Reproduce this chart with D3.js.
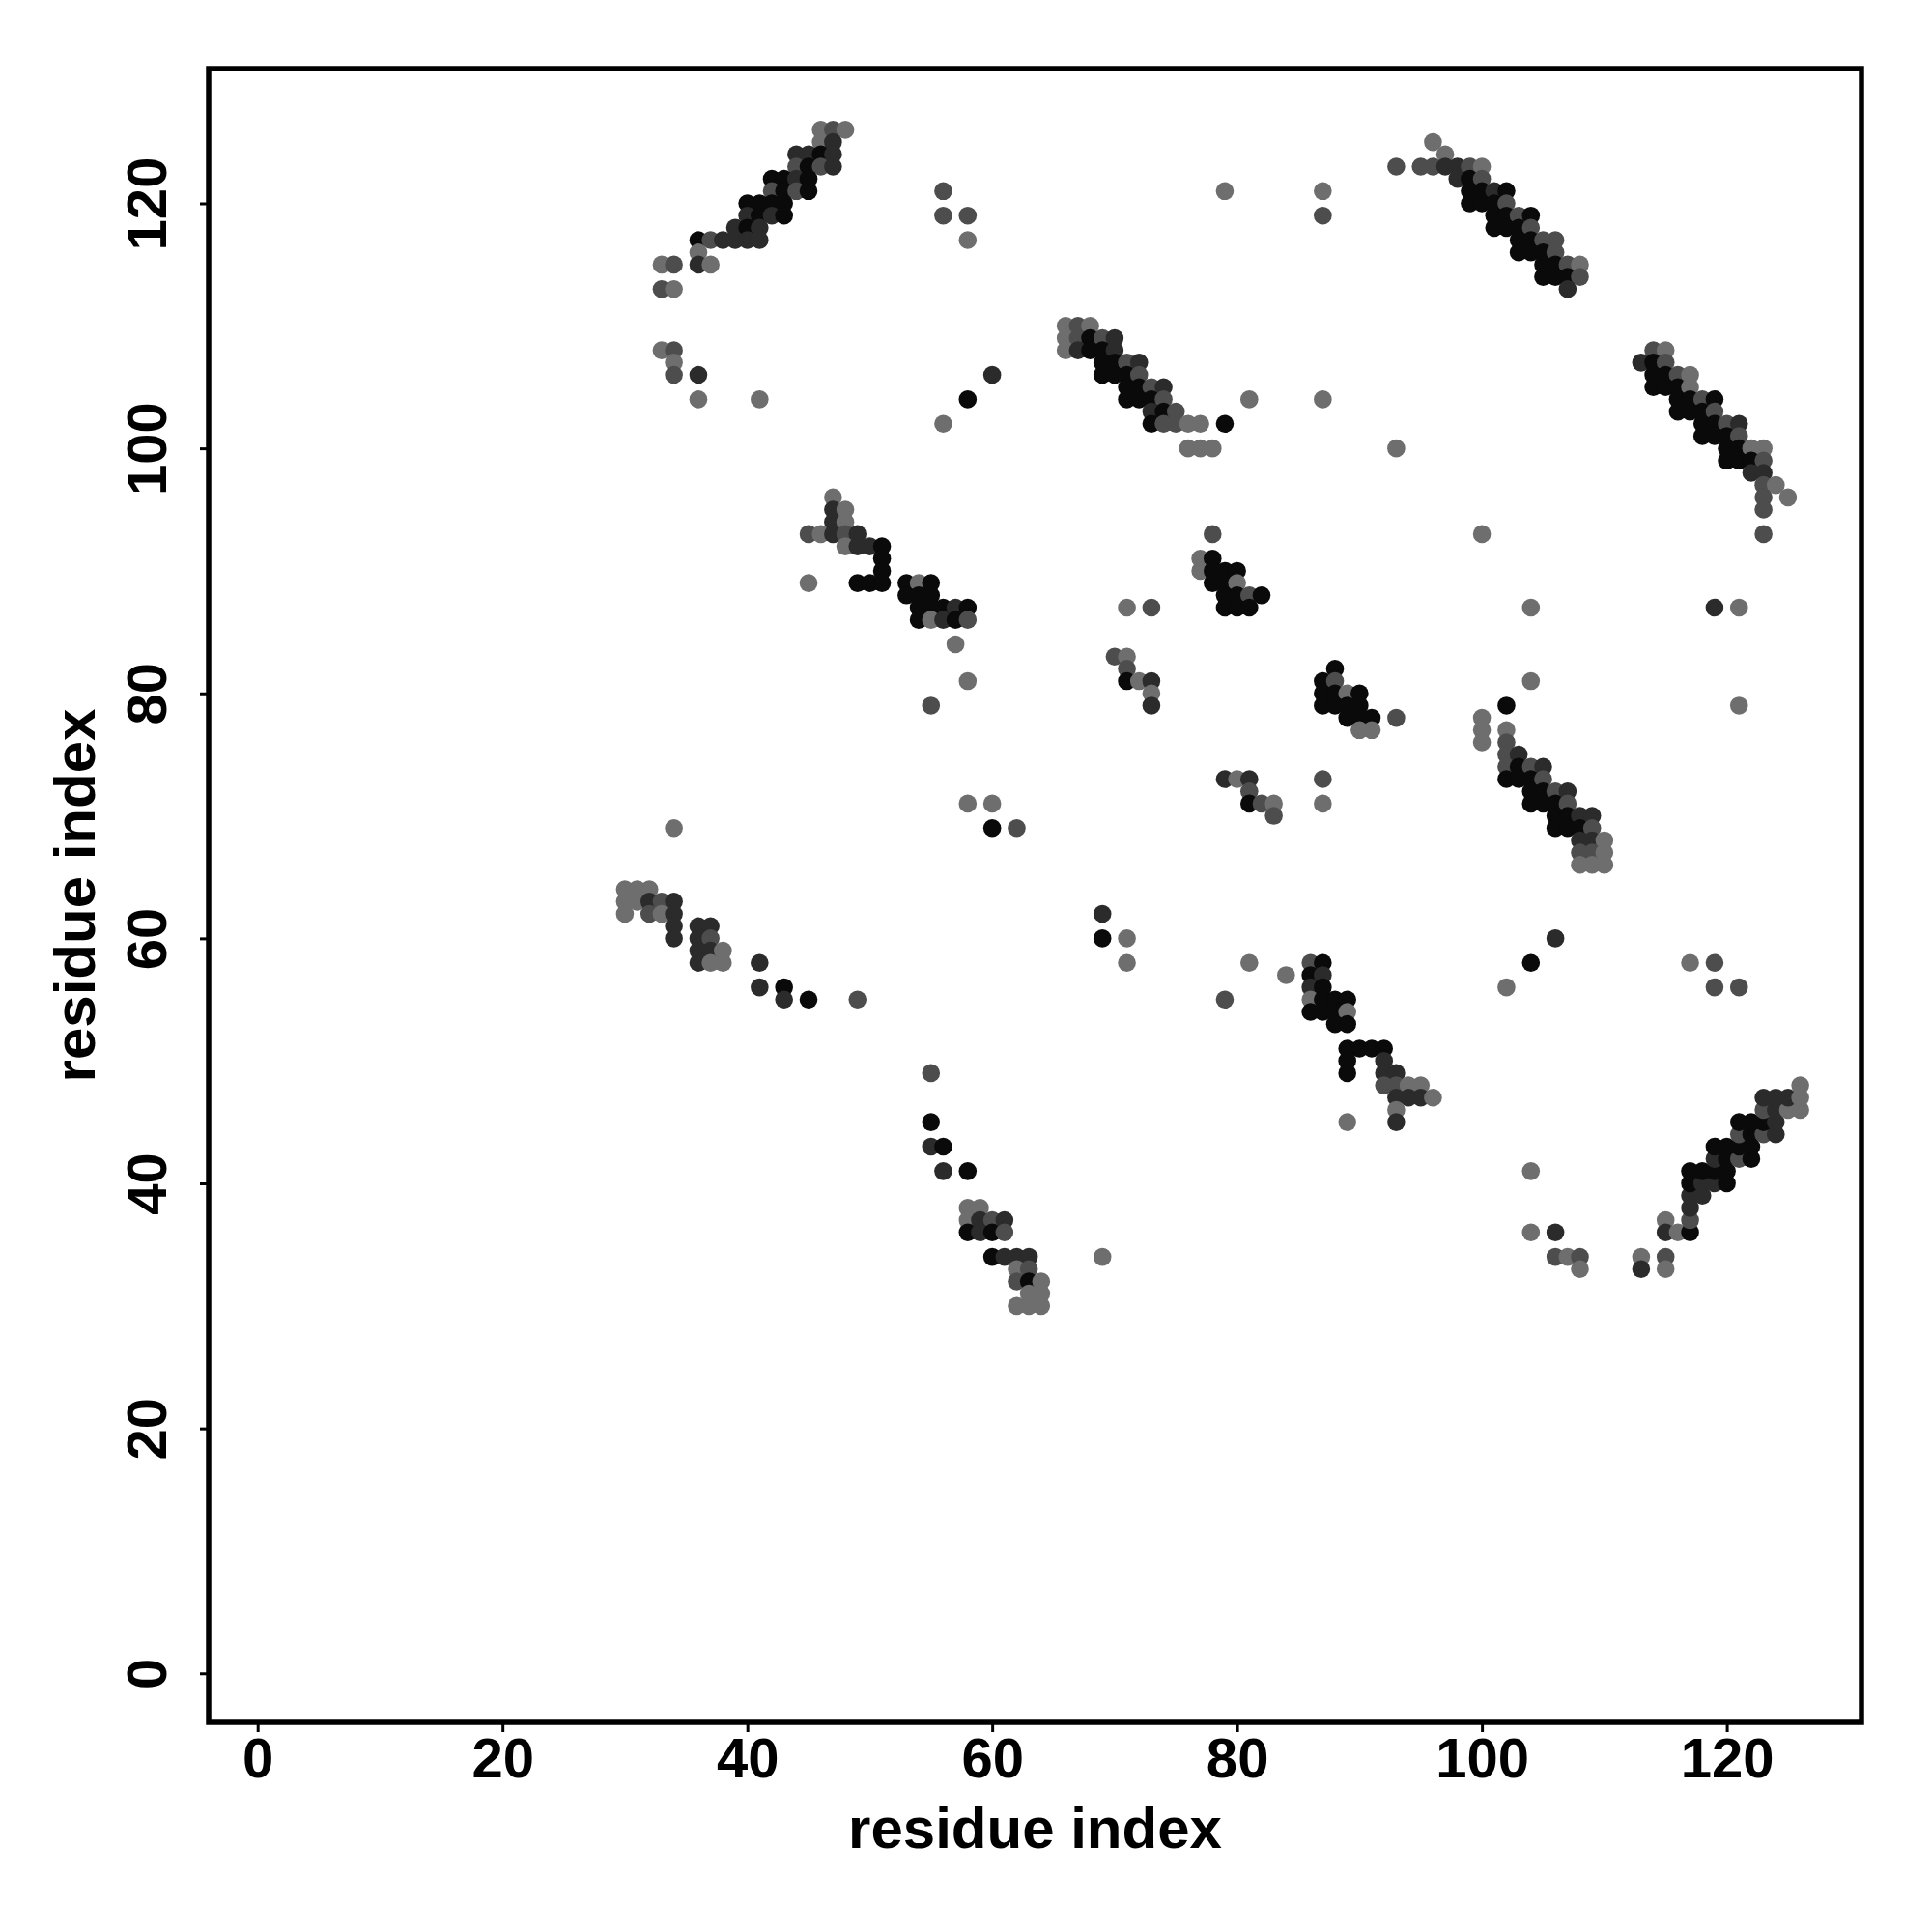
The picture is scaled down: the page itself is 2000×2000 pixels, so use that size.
<!DOCTYPE html>
<html>
<head>
<meta charset="utf-8">
<script src="https://cdn.jsdelivr.net/npm/d3@7"></script>
<style>
html,body{margin:0;padding:0;background:#fff;}
svg{display:block;}
</style>
</head>
<body>
<script>
// Each contact: [residue i (x), residue j (y), confidence level 1..4]
const contactsTopLeft = [
[46,126,1],[47,126,2],[48,126,1],[46,125,1],[47,125,3],
[44,124,3],[45,124,3],[46,124,4],[47,124,3],
[44,123,2],[45,123,4],[46,123,2],[47,123,3],
[42,122,4],[43,122,4],[44,122,3],[45,122,4],
[42,121,2],[43,121,4],[44,121,2],[45,121,4],
[40,120,4],[41,120,4],[42,120,4],[43,120,4],
[40,119,3],[41,119,4],[42,119,3],[43,119,4],
[39,118,3],[40,118,4],[41,118,3],
[36,117,4],[37,117,2],[38,117,3],[39,117,3],[40,117,3],[41,117,3],
[36,116,1],[33,115,1],[34,115,2],[36,115,3],[37,115,1],[33,113,2],[34,113,1],
[33,108,1],[34,108,2],[34,107,1],[34,106,2],[36,106,3],[36,104,1],[41,104,1],
[56,121,2],[56,119,2],[58,119,2],[58,117,1],[60,106,3],[58,104,4],[56,102,1]
];
const contactsTopMiddle = [
[66,110,1],[67,110,2],[68,110,1],
[66,109,1],[67,109,2],[68,109,4],[69,109,2],[70,109,3],
[66,108,1],[67,108,3],[68,108,4],[69,108,4],[70,108,3],
[69,107,4],[70,107,4],[71,107,2],[72,107,3],
[69,106,4],[70,106,4],[71,106,4],[72,106,2],
[71,105,4],[72,105,4],[73,105,2],[74,105,3],
[71,104,4],[72,104,4],[73,104,4],[74,104,2],
[73,103,3],[74,103,4],[75,103,2],
[73,102,4],[74,102,2],[75,102,2],[76,102,1],[77,102,1],[79,102,4],
[76,100,1],[77,100,1],[78,100,1],
[79,121,1],[87,121,1],[87,119,2],[93,123,2],[81,104,1],[87,104,1],[93,100,1]
];
const contactsTopRight = [
[96,125,1],[97,124,1],
[95,123,2],[96,123,2],[97,123,3],[98,123,3],[99,123,2],[100,123,1],
[98,122,3],[99,122,4],[100,122,2],
[99,121,4],[100,121,4],[101,121,3],[102,121,4],
[99,120,4],[100,120,4],[101,120,4],[102,120,2],
[101,119,4],[102,119,4],[103,119,2],[104,119,4],
[101,118,4],[102,118,4],[103,118,4],[104,118,2],
[103,117,4],[104,117,4],[105,117,2],[106,117,2],
[103,116,4],[104,116,4],[105,116,4],[106,116,2],
[105,115,4],[106,115,4],[107,115,2],[108,115,1],
[105,114,4],[106,114,4],[107,114,4],[108,114,2],
[107,113,3]
];
const contactsRightUpper = [
[114,108,2],[115,108,1],
[113,107,3],[114,107,4],[115,107,2],
[114,106,4],[115,106,4],[116,106,2],[117,106,1],
[114,105,4],[115,105,4],[116,105,4],[117,105,1],
[116,104,4],[117,104,4],[118,104,2],[119,104,4],
[116,103,4],[117,103,4],[118,103,4],[119,103,2],
[118,102,4],[119,102,4],[120,102,2],[121,102,3],
[118,101,4],[119,101,4],[120,101,4],[121,101,2],
[120,100,4],[121,100,4],[122,100,1],[123,100,1],
[120,99,4],[121,99,4],[122,99,4],[123,99,2],
[122,98,3],[123,98,3],[123,97,2],[124,97,1],
[123,96,2],[125,96,1],[123,95,2],[123,93,2]
];
const contactsLeftMiddle = [
[47,96,1],[47,95,3],[48,95,1],[47,94,3],[48,94,1],
[45,93,2],[46,93,1],[47,93,3],[48,93,2],[49,93,3],
[48,92,1],[49,92,3],[50,92,3],[51,92,4],
[51,91,4],[51,90,4],
[45,89,1],[49,89,4],[50,89,4],[51,89,4],[53,89,4],[54,89,1],[55,89,4],
[53,88,4],[54,88,4],[55,88,4],
[54,87,4],[55,87,4],[56,87,4],[57,87,3],[58,87,4],
[54,86,4],[55,86,1],[56,86,3],[57,86,4],[58,86,2],
[57,84,1],[58,81,1],[55,79,2],
[58,71,1],[60,71,1],[60,69,4],[34,69,1],[62,69,2]
];
const contactsLeftLower = [
[30,64,1],[31,64,1],[32,64,1],
[30,63,1],[31,63,1],[32,63,3],[33,63,2],[34,63,3],
[30,62,1],[32,62,2],[33,62,1],[34,62,3],
[34,61,3],[36,61,3],[37,61,3],
[34,60,3],[36,60,3],[37,60,2],
[36,59,3],[37,59,3],[38,59,1],
[36,58,3],[37,58,1],[38,58,1],
[41,58,3],[41,56,3],[43,56,4],[43,55,3],[45,55,4],[49,55,2]
];
const contactsBottomLeft = [
[55,49,2],[55,45,4],[55,43,3],[56,43,4],[56,41,3],[58,41,4],
[58,38,1],[59,38,1],
[58,37,1],[59,37,3],[60,37,2],[61,37,3],
[58,36,4],[59,36,3],[60,36,4],[61,36,2],
[60,34,4],[61,34,3],[62,34,3],[63,34,3],
[62,33,1],[63,33,2],
[62,32,2],[63,32,4],[64,32,1],
[63,31,1],[64,31,1],
[62,30,1],[63,30,1],[64,30,1],
[69,34,1]
];
const contactsCenter = [
[69,62,3],[69,60,4],[71,60,1],[71,58,1],
[78,93,2],[77,91,1],[78,91,4],
[77,90,1],[78,90,4],[79,90,4],[80,90,4],
[78,89,4],[79,89,4],[80,89,1],
[79,88,4],[80,88,4],[81,88,2],[82,88,4],
[79,87,4],[80,87,4],[81,87,4],
[71,87,1],[73,87,2],
[70,83,2],[71,83,1],[71,82,2],[71,81,4],[72,81,1],[73,81,3],[73,80,1],[73,79,3],
[88,82,4],[87,81,4],[88,81,2],
[87,80,4],[88,80,4],[89,80,1],[90,80,4],
[87,79,4],[88,79,4],[89,79,4],[90,79,4],
[89,78,4],[90,78,4],[91,78,4],[93,78,2],
[90,77,1],[91,77,1],
[79,73,3],[80,73,1],[81,73,3],[81,72,2],[81,71,4],[82,71,2],[83,71,1],[83,70,2],
[87,73,2],[87,71,1]
];
const contactsCenterLower = [
[81,58,1],[84,57,1],[79,55,2],
[86,58,2],[87,58,4],
[86,57,4],[87,57,3],
[86,56,3],[87,56,4],
[86,55,1],[87,55,4],[88,55,4],[89,55,4],
[86,54,4],[87,54,4],[88,54,4],[89,54,1],
[88,53,4],[89,53,4],
[89,51,4],[90,51,4],[91,51,4],[92,51,4],
[89,50,4],[92,50,3],
[89,49,4],[92,49,3],[93,49,3],
[92,48,2],[93,48,2],[94,48,1],[95,48,1],
[93,47,3],[94,47,3],[95,47,3],[96,47,1],
[93,46,1],[93,45,3],[89,45,1]
];
const contactsRightMiddle = [
[100,93,1],[104,87,1],[119,87,3],[121,87,1],[104,81,1],[121,79,1],[102,79,4],
[100,78,1],[100,77,1],[102,77,1],[100,76,1],[102,76,2],
[102,75,2],[103,75,3],
[102,74,2],[103,74,4],[104,74,2],[105,74,3],
[102,73,4],[103,73,4],[104,73,4],[105,73,2],
[104,72,4],[105,72,4],[106,72,2],[107,72,3],
[104,71,4],[105,71,4],[106,71,4],[107,71,2],
[106,70,4],[107,70,4],[108,70,3],[109,70,3],
[106,69,4],[107,69,4],[108,69,4],[109,69,2],
[108,68,3],[109,68,3],[110,68,1],
[108,67,2],[109,67,2],[110,67,1],
[108,66,1],[109,66,1],[110,66,1]
];
const contactsBottomRight = [
[106,60,3],[104,58,4],[102,56,1],[117,58,1],[119,58,2],[119,56,2],[121,56,2],
[104,41,1],[104,36,1],[106,36,3],[106,34,2],[107,34,1],[108,34,2],[108,33,1],
[113,34,1],[113,33,3],[115,34,2],[115,33,1],
[115,37,1],[115,36,3],[116,36,1],[117,36,4],[117,37,2],[117,38,3],[117,39,3],[118,39,3],
[117,40,4],[118,40,3],[119,40,3],[120,40,4],
[117,41,4],[118,41,4],[119,41,4],[120,41,4],
[119,42,3],[120,42,4],[121,42,2],[122,42,4],
[119,43,4],[120,43,4],[121,43,4],[122,43,4],
[121,44,2],[122,44,4],[123,44,2],[124,44,3],
[121,45,4],[122,45,4],[123,45,4],[124,45,3],
[123,46,2],[124,46,3],[125,46,1],[126,46,1],
[123,47,3],[124,47,3],[125,47,3],[126,47,1],
[126,48,1]
];
const tickValues = [0, 20, 40, 60, 80, 100, 120];
const xTitle = "residue index";
const yTitle = "residue index";

(function () {
const allContacts = [].concat(contactsTopLeft, contactsTopMiddle, contactsTopRight,
  contactsRightUpper, contactsLeftMiddle, contactsLeftLower, contactsBottomLeft,
  contactsCenter, contactsCenterLower, contactsRightMiddle, contactsBottomRight);

const W = 2000, H = 2000;
const pL = 216, pR = 1927, pT = 71, pB = 1783;
const FONT = "'Liberation Sans', Arial, Helvetica, sans-serif";
const TICK_FS = 58, TITLE_FS = 60;

const svg = d3.select("body").append("svg").attr("width", W).attr("height", H);
svg.append("rect").attr("width", W).attr("height", H).attr("fill", "#fff");

const x = d3.scaleLinear().domain([-4, 131]).range([pL, pR]);
const y = d3.scaleLinear().domain([-4, 131]).range([pB, pT]);
const shade = d3.scaleLinear().domain([1, 4]).range(["#6e6e6e", "#0a0a0a"]);

svg.append("g")
  .selectAll("circle")
  .data(allContacts)
  .join("circle")
  .attr("cx", d => x(d[0]))
  .attr("cy", d => y(d[1]))
  .attr("r", 9.3)
  .attr("fill", d => shade(d[2]));

// axes
const xAxis = svg.append("g")
  .attr("transform", `translate(0,${pB})`)
  .call(d3.axisBottom(x).tickValues(tickValues).tickSize(10).tickFormat(d3.format("d")));
xAxis.select(".domain").remove();
xAxis.selectAll(".tick line").attr("stroke", "#000").attr("stroke-width", 3);
xAxis.selectAll(".tick text").remove();
xAxis.selectAll(".tick").append("text")
  .attr("y", 57)
  .attr("text-anchor", "middle")
  .attr("font-family", FONT).attr("font-weight", "bold").attr("font-size", TICK_FS)
  .attr("fill", "#000")
  .text(d => d);

const yAxis = svg.append("g")
  .attr("transform", `translate(${pL},0)`)
  .call(d3.axisLeft(y).tickValues(tickValues).tickSize(9).tickFormat(d3.format("d")));
yAxis.select(".domain").remove();
yAxis.selectAll(".tick line").attr("stroke", "#000").attr("stroke-width", 3);
yAxis.selectAll(".tick text").remove();
yAxis.selectAll(".tick").append("text")
  .attr("transform", "translate(-44,0) rotate(-90)")
  .attr("text-anchor", "middle")
  .attr("font-family", FONT).attr("font-weight", "bold").attr("font-size", TICK_FS)
  .attr("fill", "#000")
  .text(d => d);

// frame
svg.append("rect")
  .attr("x", pL).attr("y", pT)
  .attr("width", pR - pL).attr("height", pB - pT)
  .attr("fill", "none").attr("stroke", "#000").attr("stroke-width", 5.5);

// titles
svg.append("text")
  .attr("x", (pL + pR) / 2).attr("y", 1913)
  .attr("text-anchor", "middle")
  .attr("font-family", FONT).attr("font-weight", "bold").attr("font-size", TITLE_FS)
  .text(xTitle);
svg.append("text")
  .attr("transform", `translate(98,${(pT + pB) / 2}) rotate(-90)`)
  .attr("text-anchor", "middle")
  .attr("font-family", FONT).attr("font-weight", "bold").attr("font-size", TITLE_FS)
  .text(yTitle);
})();
</script>
</body>
</html>
